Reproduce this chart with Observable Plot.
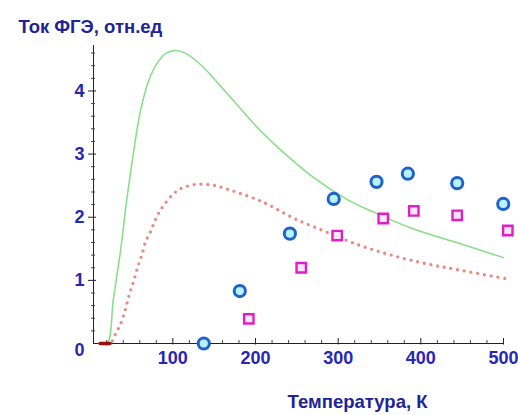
<!DOCTYPE html>
<html><head><meta charset="utf-8">
<script src="https://cdn.jsdelivr.net/npm/d3@7"></script>
<script src="https://cdn.jsdelivr.net/npm/@observablehq/plot@0.6"></script>
<style>html,body{margin:0;padding:0;background:#fff}</style>
</head><body><div id="chart"></div>
<script>
const titleText = "Ток ФГЭ, отн.ед";
const xLabelText = "Температура, К";
const xTicks = [100, 200, 300, 400, 500];
const yTicks = [0, 1, 2, 3, 4];
const xDomain = [4, 500];
const yDomain = [0, 4.72];

// theory curve 1 (green solid)
const greenT = [12, 20.6, 28, 36.7, 44, 52.8, 60.9, 71, 81, 92, 103, 115, 135, 150, 175, 206, 230, 270, 311, 343, 388, 448, 500];
const greenI = [0, 0, 0.7, 1.47, 2.25, 3.06, 3.69, 4.17, 4.44, 4.60, 4.64, 4.60, 4.40, 4.19, 3.82, 3.37, 3.07, 2.63, 2.28, 2.08, 1.83, 1.58, 1.36];

// theory curve 2 (red dotted)
const redT = [12, 24, 30.6, 36.7, 41.9, 46.7, 52.8, 58, 62.9, 66.9, 73, 77.8, 83, 89, 100, 109, 127, 147.5, 159.7, 171.8, 185, 200, 214, 247, 287, 327, 367, 408, 448, 502];
const redI = [0, 0, 0.15, 0.31, 0.51, 0.75, 1.0, 1.23, 1.42, 1.61, 1.77, 1.93, 2.07, 2.19, 2.36, 2.45, 2.52, 2.51, 2.47, 2.42, 2.36, 2.29, 2.21, 1.98, 1.76, 1.55, 1.39, 1.26, 1.16, 1.03];

// experiment 1 (blue circles)
const circleT = [137.4, 181, 241.6, 294.6, 346.4, 384.3, 444, 499.7];
const circleI = [0.0, 0.83, 1.74, 2.29, 2.56, 2.69, 2.54, 2.21];

// experiment 2 (magenta squares)
const squareT = [191.9, 255.3, 298.8, 354.5, 391.5, 444, 505.2];
const squareI = [0.39, 1.20, 1.71, 1.98, 2.10, 2.03, 1.79];

const green = greenT.map((t, i) => ({T: t, I: greenI[i]}));
const red = redT.map((t, i) => ({T: t, I: redI[i]}));
const circles = circleT.map((t, i) => ({T: t, I: circleI[i]}));
const squares = squareT.map((t, i) => ({T: t, I: squareI[i]}));

const xMinor = d3.range(20, 501, 20).filter(d => !xTicks.includes(d));
const yMinor = d3.range(0.2, 4.71, 0.2).map(d => +d.toFixed(1)).filter(d => !yTicks.includes(d));

const font = "'Liberation Sans', Arial, sans-serif";
const labelColor = "#2626b8";
const titleColor = "#1f2398";

// tick lengths in data units (x: ~0.8266 px per K, y: ~63.1 px per unit)
const kx = (xDomain[1] - xDomain[0]) / 410;
const ky = (yDomain[1] - yDomain[0]) / 298;

const chart = Plot.plot({
  width: 518,
  height: 415,
  marginLeft: 93,
  marginRight: 15,
  marginTop: 45,
  marginBottom: 72,
  x: {domain: xDomain, axis: null},
  y: {domain: yDomain, axis: null},
  style: {background: "white", fontFamily: font, overflow: "visible"},
  marks: [
    // axes lines
    Plot.ruleY([0], {x1: xDomain[0], x2: xDomain[1], stroke: "#222", strokeWidth: 1}),
    Plot.ruleX([xDomain[0]], {y1: yDomain[0], y2: yDomain[1], stroke: "#222", strokeWidth: 1}),
    // x ticks
    Plot.ruleX(xTicks, {x: d => d, y1: -1.5 * ky, y2: 5 * ky, stroke: "#222"}),
    Plot.ruleX(xMinor, {x: d => d, y1: 0, y2: 3 * ky, stroke: "#444"}),
    // y ticks
    Plot.ruleY(yTicks.filter(d => d > 0), {y: d => d, x1: xDomain[0] - 5 * kx, x2: xDomain[0] + 3 * kx, stroke: "#222"}),
    Plot.ruleY(yMinor, {y: d => d, x1: xDomain[0] - 2 * kx, x2: xDomain[0] + 2 * kx, stroke: "#444"}),
    // curves
    Plot.line(green, {x: "T", y: "I", stroke: "#86de86", strokeWidth: 1.5, curve: "catmull-rom"}),
    Plot.line(red, {x: "T", y: "I", stroke: "#e98a84", strokeWidth: 3.3, strokeDasharray: "0,6.8", strokeLinecap: "round", curve: "catmull-rom"}),
    Plot.line(red.filter(d => d.I === 0), {x: "T", y: "I", stroke: "#9a1010", strokeWidth: 3.5, strokeLinecap: "round"}),
    // experimental points
    Plot.dot(circles, {x: "T", y: "I", r: 5.6, stroke: "#1e62cc", strokeWidth: 3, fill: "#b8f2ff"}),
    Plot.dot(squares, {x: "T", y: "I", symbol: "square", r: 5.3, stroke: "#e01ec6", strokeWidth: 2.4, fill: "#fbe6f6"}),
    // tick labels
    Plot.text(xTicks, {x: d => d, y: yDomain[0], text: d => String(d), lineAnchor: "top", dy: 8, fontSize: 18, fontWeight: "bold", fill: labelColor}),
    Plot.text(yTicks.filter(d => d > 0), {x: xDomain[0], y: d => d, text: d => String(d), textAnchor: "end", dx: -9, fontSize: 18, fontWeight: "bold", fill: labelColor}),
    Plot.text(yTicks.filter(d => d === 0), {x: xDomain[0], y: d => d, text: d => String(d), textAnchor: "end", dx: -9, dy: 7, fontSize: 18, fontWeight: "bold", fill: labelColor}),
    // titles
    Plot.text([titleText], {frameAnchor: "top-left", textAnchor: "start", lineAnchor: "bottom", dx: -75, dy: -13, fontSize: 18.5, fontWeight: "bold", fill: titleColor}),
    Plot.text([xLabelText], {frameAnchor: "bottom-right", textAnchor: "end", lineAnchor: "bottom", dx: -76, dy: 64, fontSize: 18.5, fontWeight: "bold", fill: titleColor})
  ]
});
document.getElementById("chart").appendChild(chart);
</script>
</body></html>
